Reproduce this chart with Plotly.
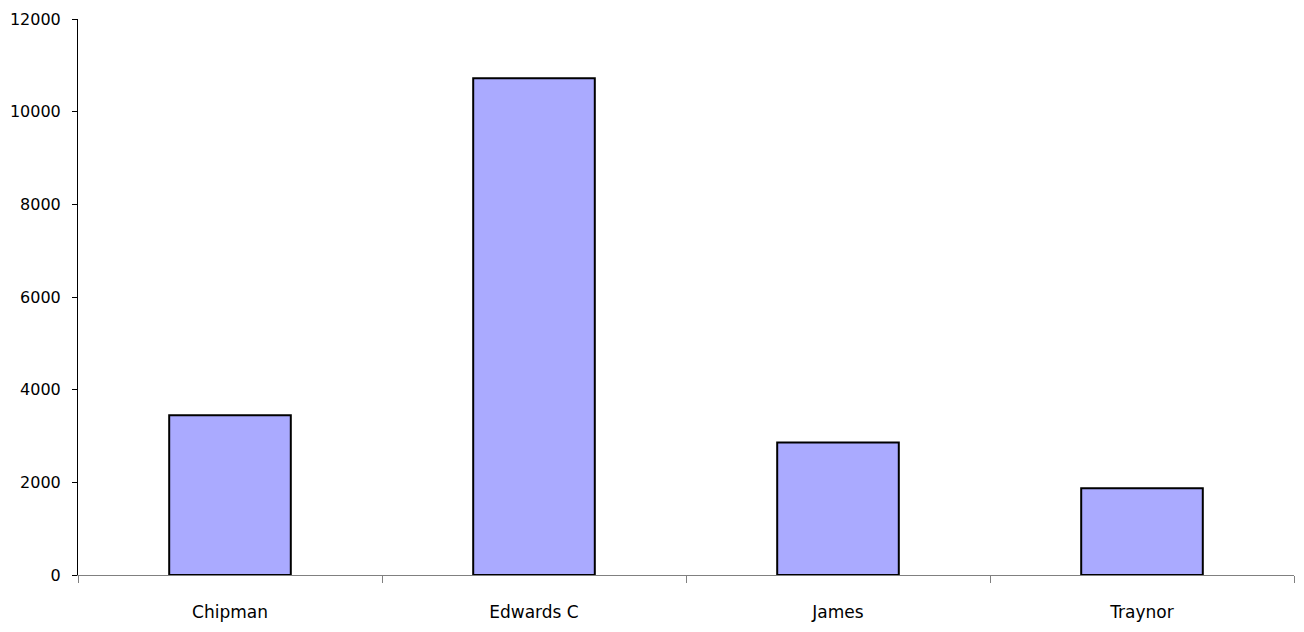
import plotly.graph_objects as go

categories = ["Chipman", "Edwards C", "James", "Traynor"]
values = [3450, 10720, 2860, 1870]
y_ticks = [0, 2000, 4000, 6000, 8000, 10000, 12000]
y_tick_labels = ["0", "2000", "4000", "6000", "8000", "10000", "12000"]

fig = go.Figure()
fig.add_trace(go.Bar(
    x=categories, y=values,
    marker=dict(color="#AAAAFF", line=dict(color="#000000", width=2)),
))

fig.update_layout(
    width=1304, height=632,
    margin=dict(l=77, r=10, t=16, b=57),
    plot_bgcolor="white", paper_bgcolor="white",
    bargap=0.6, showlegend=False,
    font=dict(family="DejaVu Sans", color="#000000"),
)
fig.update_xaxes(
    type="category", tickson="boundaries", ticks="outside", ticklen=7,
    tickcolor="#808080", showline=True, linecolor="#808080", linewidth=1,
    showgrid=False, tickfont=dict(size=17), ticklabelstandoff=22,
)
fig.update_yaxes(
    range=[0, 12000], tickvals=y_ticks, ticktext=y_tick_labels,
    ticks="outside", ticklen=5,
    tickcolor="#000000", showline=True, linecolor="#000000", linewidth=1,
    showgrid=False, zeroline=False, tickfont=dict(size=16), ticklabelstandoff=8,
)

fig.write_html(
    "out.html",
    config={"displayModeBar": False},
    post_script="document.body.style.margin='0';document.body.style.overflow='hidden';",
)
